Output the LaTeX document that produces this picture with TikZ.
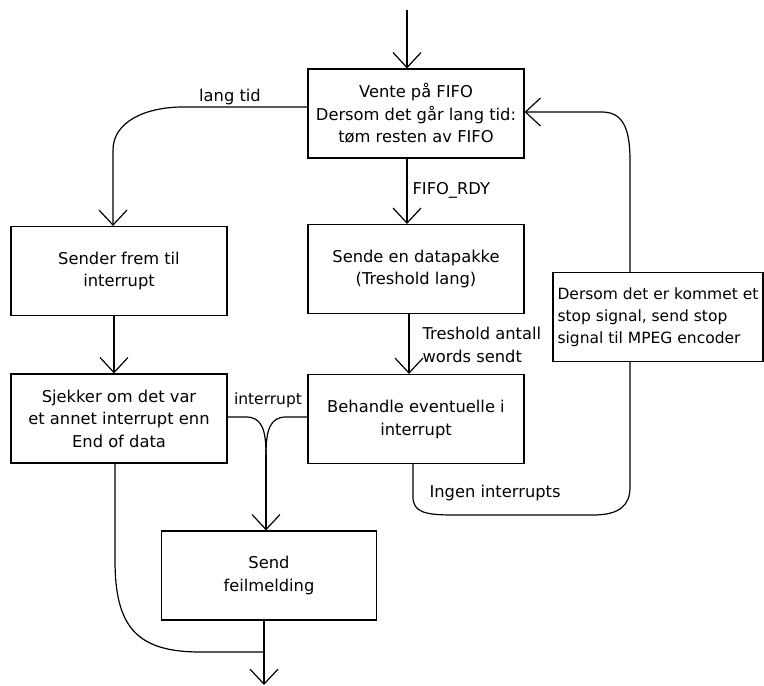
\documentclass[tikz,border=0pt]{standalone}
\usepackage{fontspec}
\setmainfont{DejaVu Sans}
\usetikzlibrary{arrows.meta}
\begin{document}
\begin{tikzpicture}[x=1pt,y=-1pt,
  line width=1.2pt,
  >={Straight Barb[length=15pt,width=28pt]},
  every node/.style={font=\fontsize{16.3}{22.5}\selectfont},
  box/.style={draw,rectangle,inner sep=0pt,minimum width=216pt,minimum height=89pt,align=center},
  lbl/.style={inner sep=0pt}
]
\useasboundingbox (0,0) rectangle (764,686);

% process boxes
\node[box] (T)  at (416,113.5) {Vente på FIFO\\Dersom det går lang tid:\\tøm resten av FIFO};
\node[box] (S1) at (119,271)   {Sender frem til\\interrupt};
\node[box] (S2) at (416,269)   {Sende en datapakke\\(Treshold lang)};
\node[box,minimum width=210pt,align=left,font=\fontsize{15.5}{22}\selectfont] (SP) at (658,317)
  {Dersom det er kommet et\\stop signal, send stop\\signal til MPEG encoder};
\node[box] (J)  at (119,418.5) {Sjekker om det var\\et annet interrupt enn\\End of data};
\node[box] (B)  at (416,419)   {\raisebox{5pt}{\begin{tabular}{@{}c@{}}Behandle eventuelle i\\[0.5pt]interrupt\end{tabular}}};
\node[box,minimum width=215pt] (F) at (269,575.5) {Send\\feilmelding};

% connector labels
\node[lbl] (ltid) at (230,97) {lang tid};
\node[lbl,anchor=west] (rdy) at (412,190) {FIFO\_RDY};
\node[lbl,anchor=west,align=left] (thr) at (422,345) {Treshold antall\\words sendt};
\node[lbl,font=\fontsize{15.5}{20}\selectfont] (intr) at (268,400) {interrupt};
\node[lbl,anchor=west] (ingen) at (429,493) {Ingen interrupts};

% loose ends
\coordinate (entry) at (407,10);
\coordinate (exit) at (264,685);

% entry into the waiting state
\draw[->] (entry) -- (entry |- T.north);

% timeout branch
\draw[->] (T.west |- 0,107) -- (183,107)
  .. controls (145,107) and (113,122) .. (113,150)
  -- (113,0 |- S1.north);

% normal flow
\draw[->] (407,0 |- T.south) -- (407,0 |- S2.north);
\draw[->] (409,0 |- S2.south) -- (409,0 |- B.north);
\draw[->] (114,0 |- S1.south) -- (114,0 |- J.north);

% both interrupt branches merge into the error box
\draw (J.east |- 0,417) -- (246,417)
  .. controls (262,417) and (266,430) .. (266,455);
\draw (B.west |- 0,417) -- (286,417)
  .. controls (270,417) and (266,430) .. (266,455);
\draw[->] (266,455) -- (266,0 |- F.north);

% end of data path and exit
\draw (115,0 |- J.south) -- (115,560)
  .. controls (115,625) and (135,652) .. (200,652) -- (264,652);
\draw[->] (264,0 |- F.south) -- (exit);

% no interrupts: loop back via the stop check
\draw (413,0 |- B.south) -- (413,497)
  .. controls (413,512) and (425,515) .. (453,515) -- (593,515)
  .. controls (620,515) and (630,505) .. (630,487) -- (630,0 |- SP.south);
\draw[->] (630,0 |- SP.north) -- (630,160)
  .. controls (630,127) and (622,112) .. (602,112) -- (T.east |- 0,112);
\end{tikzpicture}
\end{document}
